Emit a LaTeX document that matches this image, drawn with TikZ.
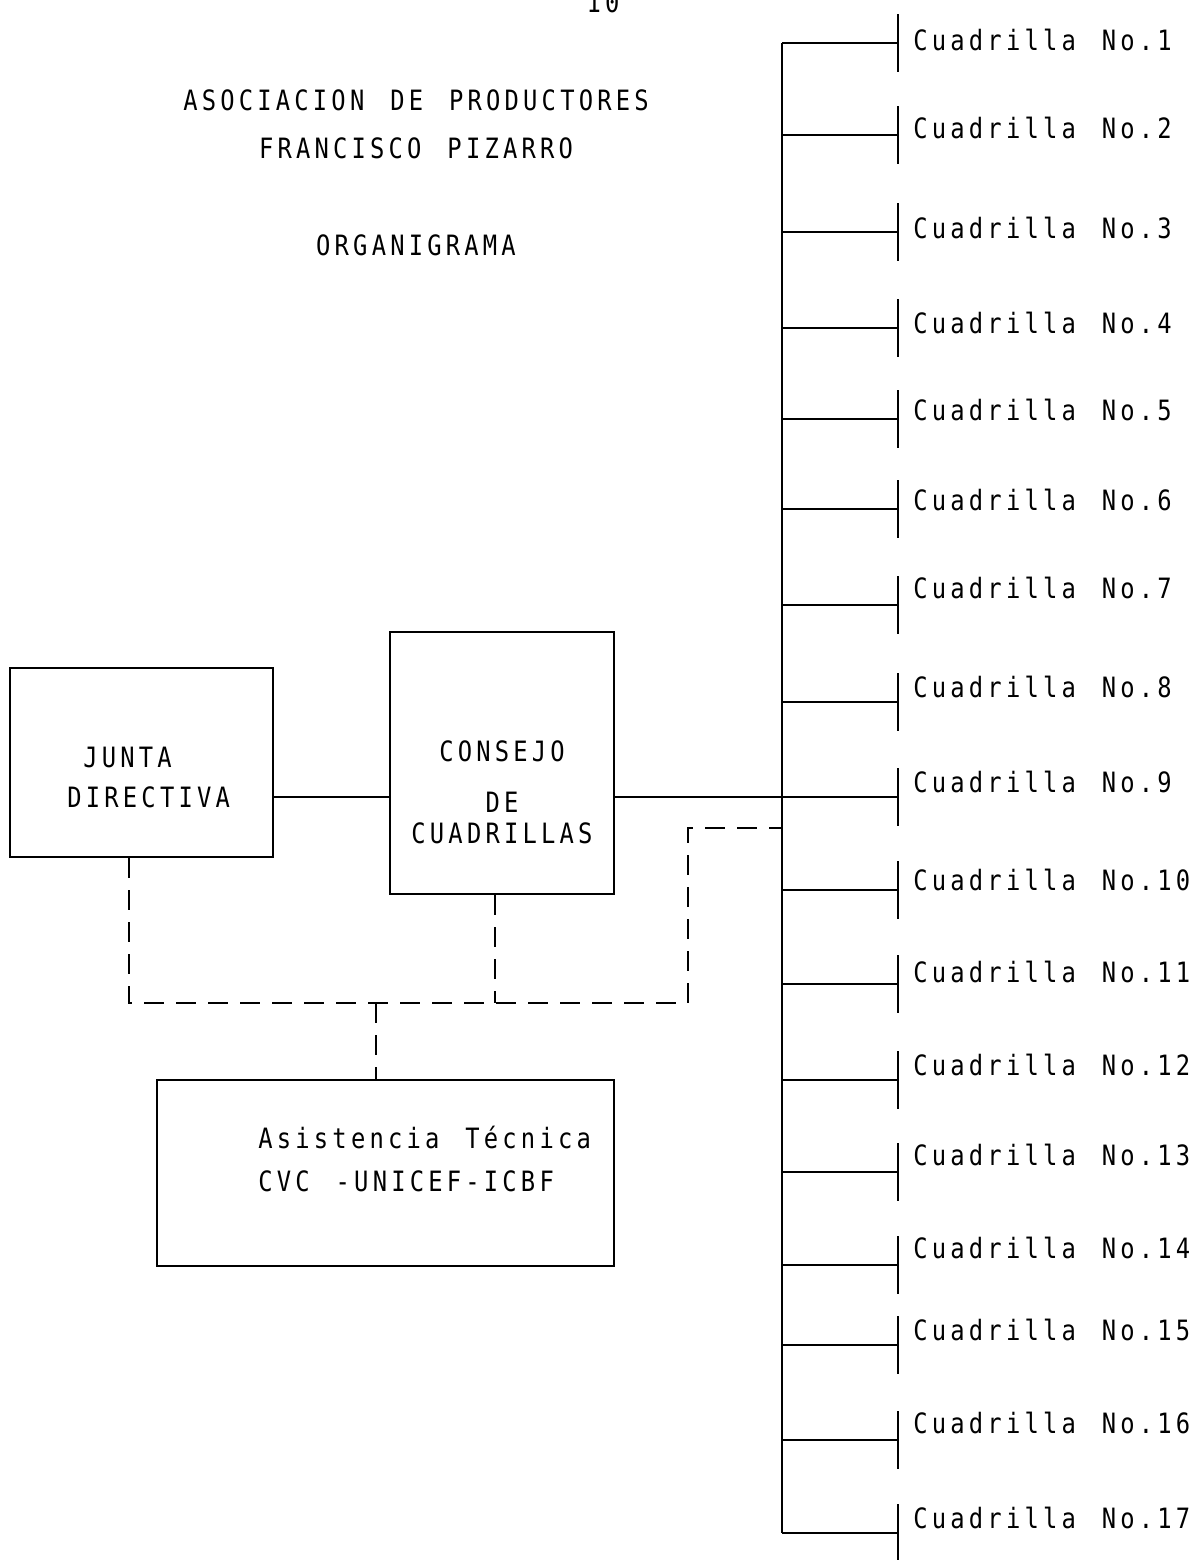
\documentclass[tikz,border=0pt]{standalone}
\usepackage{fontspec}
\newfontfamily\typewr[FakeStretch=0.85,LetterSpace=15,WordSpace=1.4]{DejaVu Sans Mono}
\usetikzlibrary{positioning}

\begin{document}
\begin{tikzpicture}[
  x=0.5pt, y=-0.5pt,
  line/.style={line width=1.2pt},
  dashline/.style={line width=0.8pt,dash pattern=on 10pt off 6pt},
  box/.style={draw,line width=1.3pt,inner sep=0pt},
  txt/.style={inner sep=0pt,font=\typewr\fontsize{14pt}{20pt}\selectfont},
  cuad/.style={txt,anchor=west,inner xsep=7.5pt}
]
\useasboundingbox (0,0) rectangle (1198,1560);
\node[txt] (page) at (603,2) {10};
\node[txt,align=center] (title) at (416,124) {ASOCIACION DE PRODUCTORES\\[4pt]FRANCISCO PIZARRO};
\node[txt] (organi) at (416,245) {ORGANIGRAMA};
\node[box,minimum width=131.5pt,minimum height=94.5pt] (junta) at (141.5,762.5) {};
\node[box,minimum width=112pt,minimum height=131pt] (consejo) at (502,763) {};
\node[box,minimum width=228.5pt,minimum height=93pt] (asist) at (385.5,1173) {};
\node[txt,align=left,anchor=west] (juntatxt) at (67,777) {\hspace*{8pt}JUNTA\\DIRECTIVA};
\node[txt,align=center] (consejotxt) at (502,792) {CONSEJO\\[5.5pt]DE\\[-4.5pt]CUADRILLAS};
\node[txt,align=left,anchor=west] (asisttxt) at (258,1158.5) {Asistencia Técnica\\[1.5pt]CVC -UNICEF-ICBF};
\foreach \n/\by/\ly in {1/43/40,2/135/128,3/232/228,4/328/323,5/419/410,6/509/500,
  7/605/588,8/702/687,9/797/782,10/890/880,11/984/972,12/1080/1065,13/1172/1155,
  14/1265/1248,15/1345/1330,16/1440/1423,17/1533/1518}{
  \coordinate (b\n) at (782,\by);
  \node[cuad] (c\n) at (898,\ly) {Cuadrilla No.\n};
  \draw[line] (b\n) -- (b\n -| c\n.west);
  \draw[line] (b\n -| c\n.west) ++(0,-29) -- ++(0,58);
}
\draw[line] (b1) -- (b17);
\draw[line] (junta.east |- b9) -- (consejo.west |- b9);
\draw[line] (consejo.east |- b9) -- (b9);
\coordinate (jfoot) at (129,1003);
\coordinate (cfoot) at (495,1003);
\coordinate (rfoot) at (688,1003);
\coordinate (afoot) at (376,1003);
\coordinate (tap) at (782,828);
\draw[dashline] (junta.south -| jfoot) -- (jfoot) -- (rfoot) |- (tap);
\draw[dashline] (consejo.south -| cfoot) -- (cfoot);
\draw[dashline] (afoot) -- (asist.north -| afoot);
\end{tikzpicture}
\end{document}
